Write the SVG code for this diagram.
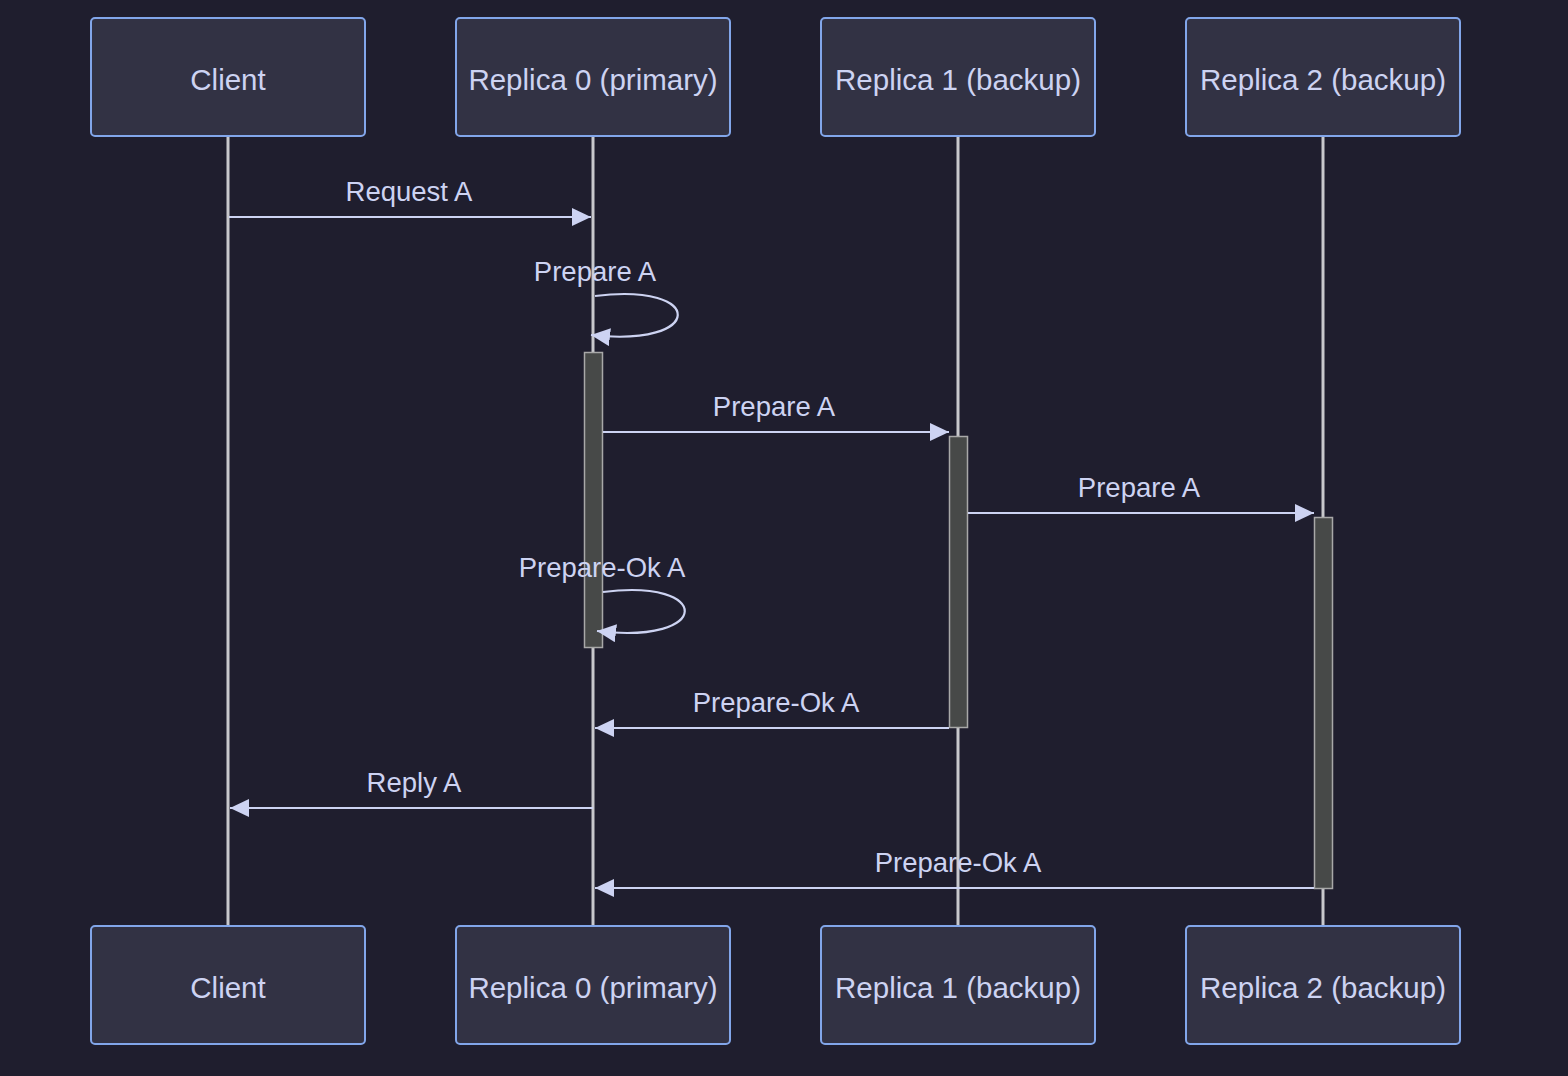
<svg xmlns="http://www.w3.org/2000/svg" width="1568" height="1076" viewBox="0 0 1568 1076">
<defs>
<style>
.actor rect{fill:#323244;stroke:#82a6ea;stroke-width:2}
.actor text{fill:#cdd3f2;font-family:"Liberation Sans",Arial,sans-serif;font-size:29.5px;text-anchor:middle}
.life{stroke:#c8c8cc;stroke-width:3}
.act{fill:#474948;stroke:#a8a8a8;stroke-width:1.5}
.msg{stroke:#cdd3f2;stroke-width:2.2;fill:none}
.lbl{fill:#cdd3f2;font-family:"Liberation Sans",Arial,sans-serif;font-size:27.5px;text-anchor:middle}
</style>
<marker id="ah" viewBox="0 0 19 18" refX="19" refY="9" markerWidth="19" markerHeight="18" markerUnits="userSpaceOnUse" orient="auto">
<path d="M0,0 L19,9 L0,18 z" fill="#cdd3f2"/>
</marker>
</defs>
<rect width="1568" height="1076" fill="#1f1e2e"/>
<g id="lifelines">
<line class="life" x1="228" y1="136" x2="228" y2="926"/>
<line class="life" x1="593" y1="136" x2="593" y2="926"/>
<line class="life" x1="958" y1="136" x2="958" y2="926"/>
<line class="life" x1="1323" y1="136" x2="1323" y2="926"/>
</g>
<g id="actor-client-top" class="actor"><rect x="91" y="18" width="274" height="118" rx="4"/><text x="228" y="90">Client</text></g>
<g id="actor-r0-top" class="actor"><rect x="456" y="18" width="274" height="118" rx="4"/><text x="593" y="90">Replica 0 (primary)</text></g>
<g id="actor-r1-top" class="actor"><rect x="821" y="18" width="274" height="118" rx="4"/><text x="958" y="90">Replica 1 (backup)</text></g>
<g id="actor-r2-top" class="actor"><rect x="1186" y="18" width="274" height="118" rx="4"/><text x="1323" y="90">Replica 2 (backup)</text></g>
<g id="actor-client-bottom" class="actor"><rect x="91" y="926" width="274" height="118" rx="4"/><text x="228" y="998">Client</text></g>
<g id="actor-r0-bottom" class="actor"><rect x="456" y="926" width="274" height="118" rx="4"/><text x="593" y="998">Replica 0 (primary)</text></g>
<g id="actor-r1-bottom" class="actor"><rect x="821" y="926" width="274" height="118" rx="4"/><text x="958" y="998">Replica 1 (backup)</text></g>
<g id="actor-r2-bottom" class="actor"><rect x="1186" y="926" width="274" height="118" rx="4"/><text x="1323" y="998">Replica 2 (backup)</text></g>
<g id="activations">
<rect class="act" x="584.5" y="352.5" width="18" height="295"/>
<rect class="act" x="949.5" y="436.5" width="18" height="291"/>
<rect class="act" x="1314.5" y="517.5" width="18" height="371"/>
</g>
<g id="connectors">
<line class="msg" x1="229" y1="217" x2="591" y2="217" marker-end="url(#ah)"/>
<path class="msg" d="M595,296 C706,282 706,348 591,335" marker-end="url(#ah)"/>
<line class="msg" x1="603" y1="432" x2="949" y2="432" marker-end="url(#ah)"/>
<line class="msg" x1="968" y1="513" x2="1314" y2="513" marker-end="url(#ah)"/>
<path class="msg" d="M603,592 C713,578 713,645 597,631" marker-end="url(#ah)"/>
<line class="msg" x1="949" y1="728" x2="595" y2="728" marker-end="url(#ah)"/>
<line class="msg" x1="593" y1="808" x2="230" y2="808" marker-end="url(#ah)"/>
<line class="msg" x1="1314" y1="888" x2="595" y2="888" marker-end="url(#ah)"/>
</g>
<g id="labels">
<text class="lbl" x="409" y="201">Request A</text>
<text class="lbl" x="595" y="281">Prepare A</text>
<text class="lbl" x="774" y="416">Prepare A</text>
<text class="lbl" x="1139" y="497">Prepare A</text>
<text class="lbl" x="602" y="577">Prepare-Ok A</text>
<text class="lbl" x="776" y="712">Prepare-Ok A</text>
<text class="lbl" x="414" y="792">Reply A</text>
<text class="lbl" x="958" y="872">Prepare-Ok A</text>
</g>
</svg>
